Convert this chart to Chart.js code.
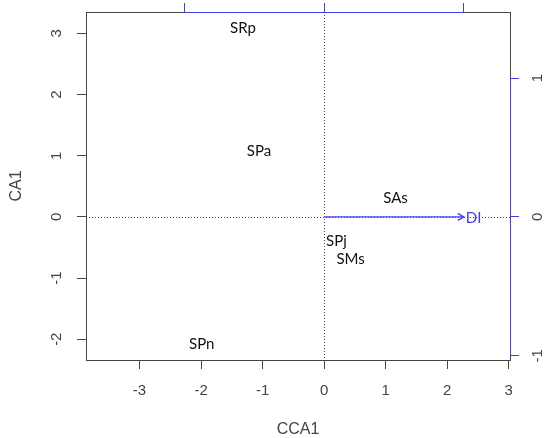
<!DOCTYPE html>
<html>
<head>
<meta charset="utf-8">
<script src="https://cdn.jsdelivr.net/npm/chart.js@4.4.0/dist/chart.umd.min.js"></script>
<style>
    html, body { margin: 0; padding: 0; background: #fff; }
    #chart { display: block; }
</style>
</head>
<body>
<canvas id="chart" width="546" height="438"></canvas>
<script>
// site scores (CCA1 = constrained axis, CA1 = first residual axis)
const siteLabels = ["SRp", "SPa", "SAs", "SPj", "SMs", "SPn"];
const siteCCA1 = [-1.32, -1.06, 1.16, 0.20, 0.43, -1.99];
const siteCA1 = [3.08, 1.08, 0.30, -0.39, -0.69, -2.08];

// biplot arrow for the environmental variable
const envLabels = ["DI"];
const envCCA1 = [1.0];
const envCA1 = [0.0];

const xLimits = [-3.87, 3.02];
const yLimits = [-2.34, 3.35];
const xTicks = [-3, -2, -1, 0, 1, 2, 3];
const yTicks = [-2, -1, 0, 1, 2, 3];
const envTicks = [-1, 0, 1];
const arrowMul = 2.27;

(function () {
    const axisColor = "#444";
    const envColor = "#3f3ff0";
    const tickFont = { family: "Liberation Sans, Arial, sans-serif", size: 15 };
    const titleFont = { family: "Liberation Sans, Arial, sans-serif", size: 16, lineHeight: 1 };
    const labelFont = "15px Lato, 'Open Sans', sans-serif";

    function fixedTicks(values) {
        return function (scale) {
            scale.ticks = values.map(function (v) { return { value: v }; });
        };
    }

    // pin the scale box size and drop the label overflow padding
    function fixedSize(prop, size) {
        return function (scale) {
            scale[prop] = size;
            scale.paddingTop = 0;
            scale.paddingBottom = 0;
            scale.paddingLeft = 0;
            scale.paddingRight = 0;
        };
    }

    const sitePoints = siteCCA1.map(function (x, i) {
        return { x: x, y: siteCA1[i] };
    });
    const envPoints = [{ x: 0, y: 0 }, { x: envCCA1[0], y: envCA1[0] }];

    const biplotPlugin = {
        id: "biplot",
        beforeDatasetsDraw: function (chart) {
            const ctx = chart.ctx;
            const area = chart.chartArea;
            const x0 = chart.scales.x.getPixelForValue(0);
            const y0 = chart.scales.y.getPixelForValue(0);
            ctx.save();
            ctx.strokeStyle = axisColor;
            ctx.lineWidth = 1;
            ctx.setLineDash([1, 2]);
            ctx.beginPath();
            ctx.moveTo(area.left, Math.round(y0) + 0.5);
            ctx.lineTo(area.right, Math.round(y0) + 0.5);
            ctx.moveTo(Math.round(x0) + 0.5, area.top);
            ctx.lineTo(Math.round(x0) + 0.5, area.bottom);
            ctx.stroke();
            ctx.restore();
        },
        afterDatasetsDraw: function (chart) {
            const ctx = chart.ctx;
            ctx.save();
            ctx.font = labelFont;
            ctx.textAlign = "center";
            ctx.textBaseline = "middle";

            ctx.fillStyle = "#111";
            chart.getDatasetMeta(0).data.forEach(function (pt, i) {
                ctx.fillText(siteLabels[i], pt.x, pt.y);
            });

            // arrow head
            const meta = chart.getDatasetMeta(1).data;
            const start = meta[0];
            const end = meta[1];
            const ang = Math.atan2(end.y - start.y, end.x - start.x);
            const len = 7;
            ctx.strokeStyle = envColor;
            ctx.lineWidth = 1.3;
            ctx.beginPath();
            ctx.moveTo(end.x - len * Math.cos(ang - Math.PI / 6), end.y - len * Math.sin(ang - Math.PI / 6));
            ctx.lineTo(end.x, end.y);
            ctx.lineTo(end.x - len * Math.cos(ang + Math.PI / 6), end.y - len * Math.sin(ang + Math.PI / 6));
            ctx.stroke();

            ctx.fillStyle = envColor;
            const lx = chart.scales.x2.getPixelForValue(envCCA1[0] * 1.07);
            const ly = chart.scales.y2.getPixelForValue(envCA1[0]);
            ctx.fillText(envLabels[0], lx, ly + 1);
            ctx.restore();
        },
        afterDraw: function (chart) {
            // blue axis lines over the box, spanning the tick range only
            const ctx = chart.ctx;
            const area = chart.chartArea;
            const x2 = chart.scales.x2;
            const y2 = chart.scales.y2;
            ctx.save();
            ctx.strokeStyle = envColor;
            ctx.lineWidth = 1;
            ctx.beginPath();
            ctx.moveTo(x2.getPixelForValue(envTicks[0]), Math.round(area.top) + 0.5);
            ctx.lineTo(x2.getPixelForValue(envTicks[envTicks.length - 1]), Math.round(area.top) + 0.5);
            ctx.moveTo(Math.round(area.right) + 0.5, y2.getPixelForValue(envTicks[envTicks.length - 1]));
            ctx.lineTo(Math.round(area.right) + 0.5, y2.getPixelForValue(envTicks[0]));
            ctx.stroke();
            ctx.restore();
        }
    };

    new Chart(document.getElementById("chart").getContext("2d"), {
        type: "scatter",
        data: {
            datasets: [
                {
                    label: "sites",
                    data: sitePoints,
                    xAxisID: "x",
                    yAxisID: "y",
                    pointRadius: 0,
                    showLine: false
                },
                {
                    label: "env",
                    data: envPoints,
                    xAxisID: "x2",
                    yAxisID: "y2",
                    showLine: true,
                    borderColor: envColor,
                    borderWidth: 1.3,
                    pointRadius: 0,
                    fill: false
                }
            ]
        },
        options: {
            responsive: false,
            animation: false,
            devicePixelRatio: 1,
            events: [],
            layout: { padding: 0 },
            plugins: {
                legend: { display: false },
                tooltip: { enabled: false }
            },
            scales: {
                x: {
                    type: "linear",
                    position: "bottom",
                    min: xLimits[0],
                    max: xLimits[1],
                    afterBuildTicks: fixedTicks(xTicks),
                    afterFit: fixedSize("height", 78),
                    ticks: { font: tickFont, color: axisColor, padding: 13, maxRotation: 0, autoSkip: false },
                    grid: { drawOnChartArea: false, tickLength: 9, color: axisColor },
                    border: { color: axisColor, width: 1 },
                    title: { display: true, text: "CCA1", font: titleFont, color: axisColor, padding: 0 }
                },
                y: {
                    type: "linear",
                    position: "left",
                    min: yLimits[0],
                    max: yLimits[1],
                    afterBuildTicks: fixedTicks(yTicks),
                    afterFit: fixedSize("width", 86),
                    ticks: { font: tickFont, color: axisColor, padding: 13, minRotation: 90, maxRotation: 90, crossAlign: "center", autoSkip: false },
                    grid: { drawOnChartArea: false, tickLength: 9, color: axisColor },
                    border: { color: axisColor, width: 1 },
                    title: { display: true, text: "CA1", font: titleFont, color: axisColor, padding: { top: 9, bottom: 0 } }
                },
                x2: {
                    type: "linear",
                    position: "top",
                    min: xLimits[0] / arrowMul,
                    max: xLimits[1] / arrowMul,
                    afterBuildTicks: fixedTicks(envTicks),
                    afterFit: fixedSize("height", 12),
                    ticks: { display: false },
                    grid: { drawOnChartArea: false, tickLength: 9, color: envColor },
                    border: { color: axisColor, width: 1 }
                },
                y2: {
                    type: "linear",
                    position: "right",
                    min: yLimits[0] / arrowMul,
                    max: yLimits[1] / arrowMul,
                    afterBuildTicks: fixedTicks(envTicks),
                    afterFit: fixedSize("width", 36),
                    ticks: { font: tickFont, color: axisColor, padding: 12, minRotation: 90, maxRotation: 90, crossAlign: "center", autoSkip: false },
                    grid: { drawOnChartArea: false, tickLength: 9, color: envColor },
                    border: { color: axisColor, width: 1 }
                }
            }
        },
        plugins: [biplotPlugin]
    });
})();
</script>
</body>
</html>
